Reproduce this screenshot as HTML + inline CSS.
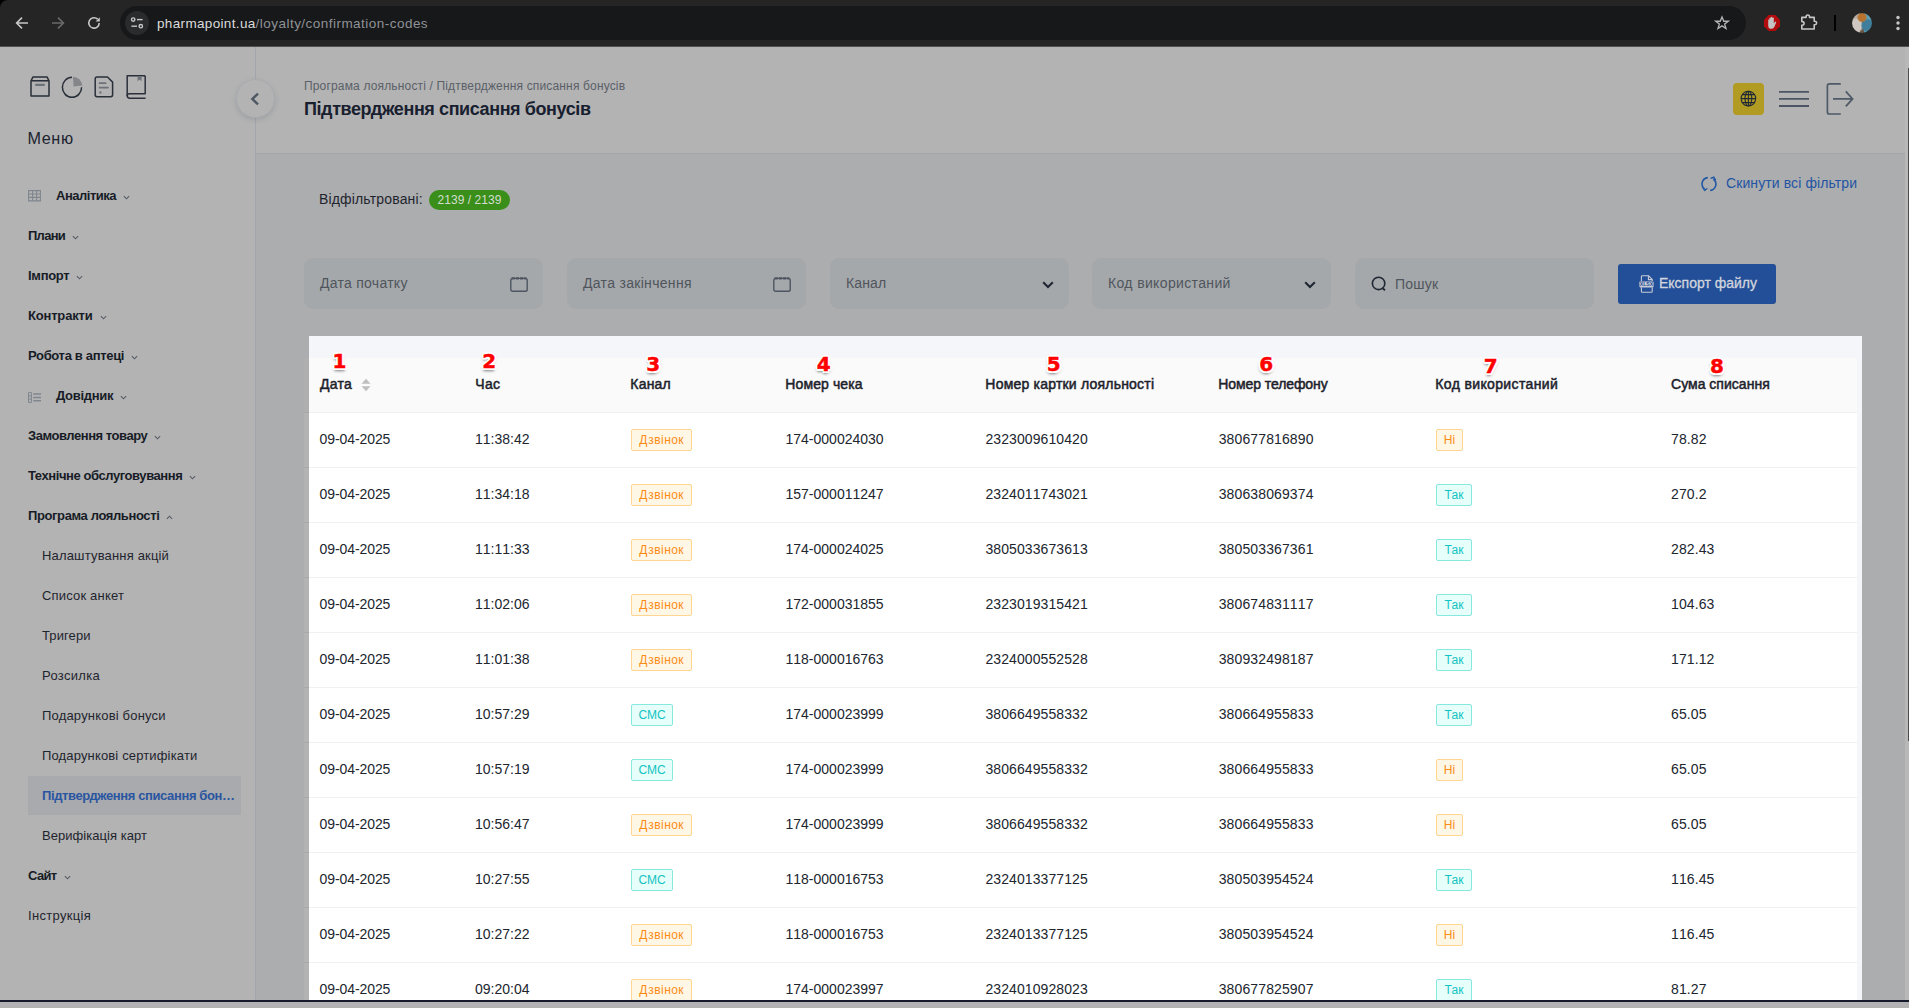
<!DOCTYPE html>
<html lang="uk">
<head>
<meta charset="utf-8">
<title>Підтвердження списання бонусів</title>
<style>
*{box-sizing:border-box;margin:0;padding:0}
html,body{width:1909px;height:1008px;overflow:hidden;background:#b3b3b3}
body{font-family:"Liberation Sans",sans-serif;color:#1f2937;position:relative;font-size:13px}
.abs{position:absolute}
#chrome{position:absolute;left:0;top:0;width:1909px;height:47px;background:#252525;border-bottom:1px solid #505050;z-index:5}
#urlbar{position:absolute;left:120px;top:6px;width:1626px;height:34px;border-radius:17px;background:#17181a}
#siteinfo{position:absolute;left:125px;top:11px;width:24px;height:24px;border-radius:12px;background:#2a2b2d}
#url{position:absolute;left:157px;top:0;height:46px;line-height:47px;font-size:13.5px;color:#8f9296;white-space:nowrap}
#url b{font-weight:normal;color:#dcdcdc}
#avatar{left:1852px;top:13px;width:20px;height:20px;border-radius:10px;background:
 radial-gradient(circle at 50% 22%,#b8742f 0 20%,transparent 28%),
 radial-gradient(circle at 78% 62%,#3f7f9c 0 26%,transparent 36%),
 radial-gradient(circle at 22% 62%,#cfc8c2 0 28%,transparent 38%),
 linear-gradient(90deg,#b5aea8 0 42%,#6a5646 42% 58%,#5f9fb4 58%)}
#sidebar{position:absolute;left:0;top:46px;width:256px;height:955px;background:#b3b3b3;border-right:1px solid #a2a6ab}
.menu-title{position:absolute;left:27.4px;top:128px;font-size:16.2px;line-height:20px;color:#1c2430}
.mi{position:absolute;left:28px;height:20px;line-height:20px;font-size:13px;font-weight:bold;color:#171c26;white-space:nowrap}
.mi.sub{left:42px;font-weight:normal;color:#1f252e}
.mi.act{font-weight:bold;color:#2a55a0}
.mi .car{display:inline-block;width:7px;height:7px;margin-left:7px;vertical-align:-1px}
#active{position:absolute;left:28px;top:776px;width:213px;height:39px;background:#a8aaae}
#header{position:absolute;left:256px;top:46px;width:1649px;height:108px;background:#b3b3b3;border-bottom:1px solid #a2a6ab}
#collapse{position:absolute;left:236px;top:79px;width:39px;height:39px;border-radius:20px;background:#b3b3b3;border:1px solid #a9acb0;box-shadow:0 2px 5px rgba(60,70,90,.18)}
#collapse svg{position:absolute;left:12px;top:12px}
#crumb{position:absolute;left:304px;top:78px;font-size:12px;line-height:16px;color:#5b6068;white-space:nowrap}
#ptitle{position:absolute;left:304px;top:97px;font-size:18px;line-height:24px;font-weight:bold;color:#18202f;white-space:nowrap}
#lang{left:1733px;top:83px;width:31px;height:32px;border-radius:4px;background:#b29b22}
#content{position:absolute;left:256px;top:154px;width:1649px;height:847px;background:#acadaf}
#flabel{position:absolute;left:319px;top:189px;font-size:14px;line-height:20px;color:#1f252e;white-space:nowrap}
#fbadge{position:absolute;left:429px;top:190px;width:81px;height:20px;border-radius:10px;background:#3a8f1a;color:#d3ddcf;font-size:12px;line-height:20px;text-align:center;white-space:nowrap}
.inp{position:absolute;top:258px;width:239px;height:51px;border-radius:9px;background:#a4a8ab}
.inp > span{position:absolute;left:16px;top:0;line-height:50px;font-size:14px;color:#50555c;white-space:nowrap}
.inp .cal{position:absolute;left:206px;top:19px}
.inp .chev{position:absolute;left:212px;top:23px}
.inp .srch{position:absolute;left:16px;top:18px}
#export{position:absolute;left:1618px;top:264px;width:158px;height:40px;border-radius:3px;background:#224f98;color:#d2d5dd}
#export .xls{position:absolute;left:21px;top:11px}
#export > span{position:absolute;left:41px;top:0;font-size:14px;line-height:39px;white-space:nowrap;-webkit-text-stroke:0.3px #d2d5dd}
#reset{position:absolute;left:1726px;top:173px;font-size:14px;line-height:20px;color:#2354a3;white-space:nowrap}
#strip{position:absolute;left:304px;top:358px;width:5px;height:643px;background:#b3b3b3}
#strip i{position:absolute;left:0;width:5px}
#hl{position:absolute;left:309px;top:336px;width:1553px;height:665px;background:#f5f6fa;overflow:hidden}
#table{position:absolute;left:-5px;top:22px;width:1553px;height:700px;background:#fff}
#thead{position:absolute;left:0;top:0;width:1553px;height:55px;background:#fafafa;border-bottom:1px solid #f0f0f0}
.h{position:absolute;top:17px;line-height:18px;font-size:14px;font-weight:normal;-webkit-text-stroke:0.5px #1c212b;color:#1c212b;white-space:nowrap}
.h .sort{position:absolute;left:40.7px;top:3.4px}
.row{position:absolute;left:0;width:1553px;height:55px;border-bottom:1px solid #f0f0f0;background:#fff}
.c{position:absolute;top:0;line-height:52px;font-size:14px;color:#20252e;white-space:nowrap;font-kerning:none}
.c{margin-left:-0.5px}.h1,.h2,.h3,.h4,.h5,.h6{margin-left:-0.7px}
.c0{letter-spacing:-0.08px}.c1{letter-spacing:0;margin-left:-1px}.c4{letter-spacing:.08px}.c5{letter-spacing:.12px;margin-left:-.3px}.c7{margin-left:0;letter-spacing:.1px}
.tag{position:absolute;top:16px;height:22px;line-height:20px;font-size:12px;padding:0;text-align:center;border:1px solid;border-radius:2px;white-space:nowrap}
.tag.dz{width:61px;letter-spacing:0.45px;text-indent:0.4px}.tag.sms{width:42px}.tag.tak{width:36px;letter-spacing:.05px}.tag.ni{width:27px}
.tag.o{color:#fa8c16;background:#fff7e6;border-color:#ffd591}
.tag.c2{color:#13c2c2;background:#e6fffb;border-color:#87e8de}
.num{position:absolute;width:30px;height:30px;text-align:center;font-family:"DejaVu Sans",sans-serif;font-weight:bold;font-size:20px;line-height:30px;color:#ff0000;-webkit-text-stroke:0.45px #ff0000;
 text-shadow:-1.5px -1.5px 0 #fff,1.5px -1.5px 0 #fff,-1.5px 1.5px 0 #fff,1.5px 1.5px 0 #fff,0 -2px 0 #fff,0 2px 0 #fff,-2px 0 0 #fff,2px 0 0 #fff,-.5px 3px 2.5px rgba(0,0,0,.4),0 2px 4px rgba(0,0,0,.22)}
#bottombar{position:absolute;left:0;top:1000px;width:1909px;height:8px;background:#b3b3b3;border-top:2px solid #161a2a;z-index:6}
#vscroll{position:absolute;left:1905px;top:46px;width:4px;height:955px;background:#b8b8b8}
#vscroll i{position:absolute;left:3px;top:22px;width:1px;height:673px;background:#4c4c4c}

</style>
</head>
<body>
<div id="chrome">
  <div id="urlbar"></div>
  <div id="siteinfo"></div>
  <div id="url"><b style="letter-spacing:0.34px;">pharmapoint.ua</b><span style="letter-spacing:0.47px;">/loyalty/confirmation-codes</span></div>

<svg class="abs" style="left:0;top:0" width="8" height="8" viewBox="0 0 8 8"><path d="M0 0H8A8 8 0 0 0 0 8Z" fill="#000"/></svg>
<svg class="abs" style="left:14px;top:15px" width="16" height="16" viewBox="0 0 16 16"><path d="M14 8H3M8 2.6L2.6 8L8 13.4" fill="none" stroke="#c7c7c7" stroke-width="1.6"/></svg>
<svg class="abs" style="left:50px;top:15px" width="16" height="16" viewBox="0 0 16 16"><path d="M2 8H13M8 2.6L13.4 8L8 13.4" fill="none" stroke="#6a6a6a" stroke-width="1.6"/></svg>
<svg class="abs" style="left:86px;top:15px" width="16" height="16" viewBox="0 0 16 16"><path d="M13.2 8A5.2 5.2 0 1 1 11.6 4.2" fill="none" stroke="#c7c7c7" stroke-width="1.6"/><path d="M13.8 2.2V6.4H9.6Z" fill="#c7c7c7"/></svg>
<svg class="abs" style="left:129px;top:15px" width="16" height="16" viewBox="0 0 16 16" fill="none" stroke="#c7c7c7" stroke-width="1.4"><circle cx="4.2" cy="4.6" r="1.7"/><path d="M8 4.6H13.6"/><circle cx="11.8" cy="11.2" r="1.7"/><path d="M2.4 11.2H8"/></svg>
<svg class="abs" style="left:1714px;top:14.5px" width="16" height="16" viewBox="0 0 18 18"><path d="M9 2.2L11 7H16L12 10.2L13.5 15.2L9 12.2L4.5 15.2L6 10.2L2 7H7Z" fill="none" stroke="#b4b4b4" stroke-width="1.5" stroke-linejoin="miter"/></svg>
<svg class="abs" style="left:1764px;top:15px" width="16" height="16" viewBox="0 0 16 16"><path d="M4.7 0H11.3L16 4.7V11.3L11.3 16H4.7L0 11.3V4.7Z" fill="#b30c0c"/><path transform="translate(8 8) scale(1.22) translate(-8.3 -7.8)" d="M5.2 8.2V5.2Q5.7 4.6 6.2 5.2V3.6Q6.8 3 7.4 3.6V3Q8 2.4 8.6 3V3.6Q9.2 3.1 9.8 3.7V8L10.8 6.8Q11.6 6.4 11.8 7.2L10.4 10.6Q9.6 12.6 8 12.6Q5.4 12.6 5.2 10Z" fill="#c4c4c4"/></svg>
<svg class="abs" style="left:1799px;top:13px" width="20" height="20" viewBox="0 0 20 20"><path d="M2.8 4.4H7.1V3.7A1.7 1.7 0 0 1 10.5 3.7V4.4H15.2V8.3H15.9A1.7 1.7 0 0 1 15.9 11.7H15.2V16H2.8V12.2H3.3A1.8 1.8 0 0 0 3.3 8.6H2.8Z" fill="none" stroke="#c7c7c7" stroke-width="1.6" stroke-linejoin="round"/></svg>
<div class="abs" style="left:1834px;top:15px;width:2px;height:16px;background:#000"></div>
<div class="abs" id="avatar"></div>
<svg class="abs" style="left:1894px;top:14px" width="8" height="18" viewBox="0 0 8 18" fill="#c7c7c7"><circle cx="4" cy="3.5" r="1.7"/><circle cx="4" cy="9" r="1.7"/><circle cx="4" cy="14.5" r="1.7"/></svg>

</div>
<div id="sidebar"></div><div id="header"></div><div id="content"></div><div id="vscroll"><i></i></div>
<svg class="abs" style="left:28px;top:74px" width="24" height="25" viewBox="0 0 24 24" preserveAspectRatio="none" fill="none" stroke="#2a303a" stroke-width="1.5" stroke-linejoin="round"><path d="M3 6.5L5 2.8H19L21 6.5V21.2H3Z"/><path d="M3 6.5H21"/><path d="M8 10.4H16" stroke="#6d7178" stroke-width="2.2" stroke-linecap="round"/></svg>
<svg class="abs" style="left:60px;top:74px" width="24" height="25" viewBox="0 0 24 24" preserveAspectRatio="none"><path d="M13 2.6A9.6 9.6 0 0 1 22.4 11L13.6 12Z" fill="#84868a"/><path d="M12 3.2A9.6 9.6 0 1 0 21.6 12.8" fill="none" stroke="#2a303a" stroke-width="1.5"/></svg>
<svg class="abs" style="left:92px;top:74px" width="24" height="25.5" viewBox="0 0 24 24" preserveAspectRatio="none" fill="none" stroke="#2a303a" stroke-width="1.5" stroke-linejoin="round"><path d="M5 2.8H15.5L20.6 7.6V19.6Q20.6 21.4 18.8 21.4H5Q3.2 21.4 3.2 19.6V4.6Q3.2 2.8 5 2.8Z"/><path d="M7.6 8.6H13.6M7.6 12.8H16" stroke="#6d7178" stroke-width="1.8" stroke-linecap="round"/><circle cx="8.4" cy="17.4" r="1.1" fill="#6d7178" stroke="none"/></svg>
<svg class="abs" style="left:124px;top:71.7px" width="24" height="28.6" viewBox="0 0 24 28" preserveAspectRatio="none" fill="none" stroke="#2a303a" stroke-width="1.5" stroke-linejoin="round"><path d="M21.2 3.6H3.2V23Q3.2 25.6 5.8 25.6H21.6"/><path d="M21.2 3.6V21.4H5.2Q3.2 21.4 3.2 23.4"/><path d="M13.6 3.8H17.6V9L15.6 7.4L13.6 9Z" fill="#6d7178" stroke="none"/></svg>
<svg class="abs" style="left:28px;top:190px" width="13" height="12" viewBox="0 0 13 12" fill="none" stroke="#80868f" stroke-width="1.1"><path d="M.6 .6H12.4V10.9H.6ZM.6 4H12.4M.6 7.4H12.4M4.6 .6V10.9M8.6 .6V10.9"/></svg>
<svg class="abs" style="left:28px;top:391.5px" width="13" height="11" viewBox="0 0 13 11" fill="none" stroke="#80868f" stroke-width="1"><path d="M.5 .6H3.4V10.4H.5ZM.5 3.9H3.4M.5 7.1H3.4"/><path d="M5.2 2H13M5.2 5.4H13M5.2 8.8H13" stroke-width="1.5"/></svg>

<div class="menu-title"><span style="letter-spacing:0.63px;">Меню</span></div>
<div class="mi" style="left:56px;top:186px"><span style="letter-spacing:-0.48px;">Аналітика</span><svg class="car" viewBox="0 0 8 8"><path d="M1 2.5 L4 5.5 L7 2.5" fill="none" stroke="#555b65" stroke-width="1.25"/></svg></div>
<div class="mi" style="left:28px;top:226px"><span style="letter-spacing:-0.72px;">Плани</span><svg class="car" viewBox="0 0 8 8"><path d="M1 2.5 L4 5.5 L7 2.5" fill="none" stroke="#555b65" stroke-width="1.25"/></svg></div>
<div class="mi" style="left:28px;top:266px"><span style="letter-spacing:-0.3px;">Імпорт</span><svg class="car" viewBox="0 0 8 8"><path d="M1 2.5 L4 5.5 L7 2.5" fill="none" stroke="#555b65" stroke-width="1.25"/></svg></div>
<div class="mi" style="left:28px;top:306px"><span style="letter-spacing:-0.18px;">Контракти</span><svg class="car" viewBox="0 0 8 8"><path d="M1 2.5 L4 5.5 L7 2.5" fill="none" stroke="#555b65" stroke-width="1.25"/></svg></div>
<div class="mi" style="left:28px;top:346px"><span style="letter-spacing:-0.33px;">Робота в аптеці</span><svg class="car" viewBox="0 0 8 8"><path d="M1 2.5 L4 5.5 L7 2.5" fill="none" stroke="#555b65" stroke-width="1.25"/></svg></div>
<div class="mi" style="left:56px;top:386px"><span style="letter-spacing:-0.31px;">Довідник</span><svg class="car" viewBox="0 0 8 8"><path d="M1 2.5 L4 5.5 L7 2.5" fill="none" stroke="#555b65" stroke-width="1.25"/></svg></div>
<div class="mi" style="left:28px;top:426px"><span style="letter-spacing:-0.45px;">Замовлення товару</span><svg class="car" viewBox="0 0 8 8"><path d="M1 2.5 L4 5.5 L7 2.5" fill="none" stroke="#555b65" stroke-width="1.25"/></svg></div>
<div class="mi" style="left:28px;top:466px"><span style="letter-spacing:-0.42px;">Технічне обслуговування</span><svg class="car" viewBox="0 0 8 8"><path d="M1 2.5 L4 5.5 L7 2.5" fill="none" stroke="#555b65" stroke-width="1.25"/></svg></div>
<div class="mi" style="left:28px;top:506px"><span style="letter-spacing:-0.38px;">Програма лояльності</span><svg class="car" viewBox="0 0 8 8"><path d="M1 5.5 L4 2.5 L7 5.5" fill="none" stroke="#555b65" stroke-width="1.25"/></svg></div>
<div class="mi sub" style="top:546px"><span style="letter-spacing:0.17px;">Налаштування акцій</span></div>
<div class="mi sub" style="top:586px"><span style="letter-spacing:0.18px;">Список анкет</span></div>
<div class="mi sub" style="top:626px"><span style="letter-spacing:0.1px;">Тригери</span></div>
<div class="mi sub" style="top:666px"><span style="letter-spacing:0.31px;">Розсилка</span></div>
<div class="mi sub" style="top:706px"><span style="letter-spacing:0.19px;">Подарункові бонуси</span></div>
<div class="mi sub" style="top:746px"><span style="letter-spacing:0.15px;">Подарункові сертифікати</span></div>
<div id="active"></div>
<div class="mi sub act" style="top:786px"><span style="letter-spacing:-0.39px;">Підтвердження списання бон…</span></div>
<div class="mi sub" style="top:826px"><span style="letter-spacing:0.05px;">Верифікація карт</span></div>
<div class="mi" style="top:866px"><span style="letter-spacing:-0.66px;">Сайт</span><svg class="car" viewBox="0 0 8 8"><path d="M1 2.5 L4 5.5 L7 2.5" fill="none" stroke="#555b65" stroke-width="1.25"/></svg></div>
<div class="mi sub" style="left:28px;top:906px"><span style="letter-spacing:0.32px;">Інструкція</span></div>
<div id="collapse"><svg viewBox="0 0 12 14" width="12" height="14"><path d="M9 1.6 L3.4 7 L9 12.4" fill="none" stroke="#4d5663" stroke-width="2.4"/></svg></div>
<div id="crumb"><span style="letter-spacing:0.16px;">Програма лояльності / Підтвердження списання бонусів</span></div>
<div id="ptitle"><span style="letter-spacing:-0.41px;">Підтвердження списання бонусів</span></div>
<div class="abs" id="lang"><svg width="31" height="32" viewBox="0 0 31 32" fill="none" stroke="#1e2836" stroke-width="1.05"><circle cx="15.4" cy="15.6" r="7.3"/><path d="M8.1 15.6H22.7M15.4 8.3V22.9M9.3 11.6H21.5M9.3 19.6H21.5"/><ellipse cx="15.4" cy="15.6" rx="3.4" ry="7.3"/></svg></div>
<svg class="abs" style="left:1779px;top:90px" width="30" height="18" viewBox="0 0 30 18"><path d="M0 1.9H30M0 8.9H30M0 16H30" stroke="#4b5563" stroke-width="1.9" fill="none"/></svg>
<svg class="abs" style="left:1824px;top:81px" width="32" height="36" viewBox="0 0 32 36" fill="none" stroke="#4f5a68" stroke-width="1.7"><path d="M16.8 2.8H5.4Q3.4 2.8 3.4 4.8V31Q3.4 33 5.4 33H16.8"/><path d="M9 17.9H28M21.8 10.4L28.6 17.9L21.8 25.4"/></svg>

<div id="flabel"><span style="letter-spacing:0.16px;">Відфільтровані:</span></div><div id="fbadge"><span style="letter-spacing:0.07px;">2139 / 2139</span></div>
<div class="inp" style="left:304px"><span><span style="letter-spacing:0.27px;">Дата початку</span></span><svg class="cal" viewBox="0 0 18 15" width="18" height="15"><rect x=".8" y="1.4" width="16.4" height="12.8" rx="1.8" fill="none" stroke="#4d5561" stroke-width="1.4"/><path d="M1.6 1.4H16.4" stroke="#4d5561" stroke-width="2.4" stroke-dasharray="3.2 1"/></svg></div>
<div class="inp" style="left:567px"><span><span style="letter-spacing:0.31px;">Дата закінчення</span></span><svg class="cal" viewBox="0 0 18 15" width="18" height="15"><rect x=".8" y="1.4" width="16.4" height="12.8" rx="1.8" fill="none" stroke="#4d5561" stroke-width="1.4"/><path d="M1.6 1.4H16.4" stroke="#4d5561" stroke-width="2.4" stroke-dasharray="3.2 1"/></svg></div>
<div class="inp" style="left:830px"><span><span style="letter-spacing:0.14px;">Канал</span></span><svg class="chev" viewBox="0 0 12 8" width="12" height="8"><path d="M1.2 1.2L6 6L10.8 1.2" fill="none" stroke="#1e2532" stroke-width="2"/></svg></div>
<div class="inp" style="left:1092px"><span><span style="letter-spacing:0.36px;">Код використаний</span></span><svg class="chev" viewBox="0 0 12 8" width="12" height="8"><path d="M1.2 1.2L6 6L10.8 1.2" fill="none" stroke="#1e2532" stroke-width="2"/></svg></div>
<div class="inp" style="left:1355px"><svg class="srch" viewBox="0 0 16 16" width="16" height="16"><circle cx="7.6" cy="7.4" r="6.2" fill="none" stroke="#1f2733" stroke-width="1.6"/><path d="M11.6 12.2L14 14.2" stroke="#1f2733" stroke-width="1.8"/></svg><span style="left:40px;top:1px"><span style="letter-spacing:0.2px;">Пошук</span></span></div>
<div id="export"><svg class="xls" viewBox="0 0 15 18" width="15" height="18"><path d="M2.4 6V1.6Q2.4 .8 3.2 .8H9.6L13.2 4.4V6M13.2 12.6V16.4Q13.2 17.2 12.4 17.2H3.2Q2.4 17.2 2.4 16.4V12.6" fill="none" stroke="#c9ccd6" stroke-width="1.1"/><path d="M9.4 .8V4.6H13.2" fill="none" stroke="#c9ccd6" stroke-width="1.1"/><rect x=".4" y="6.4" width="14.2" height="6" rx=".8" fill="#c9ccd6"/><text x="7.5" y="11.3" font-family="Liberation Sans,sans-serif" font-size="5.2" font-weight="bold" fill="#224f98" text-anchor="middle">XLSX</text></svg><span><span style="letter-spacing:-0.01px;">Експорт файлу</span></span></div>
<svg class="abs" style="left:1701px;top:176px" width="16" height="16" viewBox="0 0 16 16" fill="none" stroke="#2257a5" stroke-width="1.6"><path d="M6.8 1.6A6.3 6.3 0 0 0 3.6 12.9"/><path d="M9.2 14.4A6.3 6.3 0 0 0 12.4 3.1"/><path d="M1.2 10.8L3.4 13.6L6.4 12.6L3.6 15Z" fill="#2257a5" stroke-width=".8"/><path d="M9.6 2.4L12.8 1.2L14.6 4.4" stroke-width="1.5"/></svg>
<div id="reset"><span style="letter-spacing:0.1px;">Скинути всі фільтри</span></div>

<div id="strip"><i style="top:0;height:54px;background:#afafaf"></i><i style="top:54px;height:1px;background:#a8a8a8"></i><i style="top:109px;height:1px;background:#a8a8a8"></i><i style="top:164px;height:1px;background:#a8a8a8"></i><i style="top:219px;height:1px;background:#a8a8a8"></i><i style="top:274px;height:1px;background:#a8a8a8"></i><i style="top:329px;height:1px;background:#a8a8a8"></i><i style="top:384px;height:1px;background:#a8a8a8"></i><i style="top:439px;height:1px;background:#a8a8a8"></i><i style="top:494px;height:1px;background:#a8a8a8"></i><i style="top:549px;height:1px;background:#a8a8a8"></i><i style="top:604px;height:1px;background:#a8a8a8"></i><i style="top:659px;height:1px;background:#a8a8a8"></i></div>
<div id="hl"><div id="table"><div id="thead">
<div class="h h0" style="left:16px;letter-spacing:0.25px;">Дата<svg class="sort" viewBox="0 0 10 14" width="10" height="14"><path d="M5 .7 L9.5 5.7 H.5 Z M5 13.3 L9.5 8.3 H.5 Z" fill="#bfbfbf"/></svg></div>
<div class="h h1" style="left:172px;letter-spacing:0.34px;">Час</div>
<div class="h h2" style="left:327px;letter-spacing:0.19px;">Канал</div>
<div class="h h3" style="left:482px;letter-spacing:0.11px;">Номер чека</div>
<div class="h h4" style="left:682px;letter-spacing:0.21px;">Номер картки лояльності</div>
<div class="h h5" style="left:915px;letter-spacing:-0.09px;">Номер телефону</div>
<div class="h h6" style="left:1132px;letter-spacing:0.36px;">Код використаний</div>
<div class="h h7" style="left:1367px;letter-spacing:0.02px;">Сума списання</div>
</div>
<div class="row" style="top:55px">
<span class="c c0" style="left:16px">09-04-2025</span>
<span class="c c1" style="left:172px">11:38:42</span>
<span class="tag o dz" style="left:327px">Дзвінок</span>
<span class="c c3" style="left:482px">174-000024030</span>
<span class="c c4" style="left:682px">2323009610420</span>
<span class="c c5" style="left:915px">380677816890</span>
<span class="tag o ni" style="left:1132px">Ні</span>
<span class="c c7" style="left:1367px">78.82</span>
</div>
<div class="row" style="top:110px">
<span class="c c0" style="left:16px">09-04-2025</span>
<span class="c c1" style="left:172px">11:34:18</span>
<span class="tag o dz" style="left:327px">Дзвінок</span>
<span class="c c3" style="left:482px">157-000011247</span>
<span class="c c4" style="left:682px">2324011743021</span>
<span class="c c5" style="left:915px">380638069374</span>
<span class="tag c2 tak" style="left:1132px">Так</span>
<span class="c c7" style="left:1367px">270.2</span>
</div>
<div class="row" style="top:165px">
<span class="c c0" style="left:16px">09-04-2025</span>
<span class="c c1" style="left:172px">11:11:33</span>
<span class="tag o dz" style="left:327px">Дзвінок</span>
<span class="c c3" style="left:482px">174-000024025</span>
<span class="c c4" style="left:682px">3805033673613</span>
<span class="c c5" style="left:915px">380503367361</span>
<span class="tag c2 tak" style="left:1132px">Так</span>
<span class="c c7" style="left:1367px">282.43</span>
</div>
<div class="row" style="top:220px">
<span class="c c0" style="left:16px">09-04-2025</span>
<span class="c c1" style="left:172px">11:02:06</span>
<span class="tag o dz" style="left:327px">Дзвінок</span>
<span class="c c3" style="left:482px">172-000031855</span>
<span class="c c4" style="left:682px">2323019315421</span>
<span class="c c5" style="left:915px">380674831117</span>
<span class="tag c2 tak" style="left:1132px">Так</span>
<span class="c c7" style="left:1367px">104.63</span>
</div>
<div class="row" style="top:275px">
<span class="c c0" style="left:16px">09-04-2025</span>
<span class="c c1" style="left:172px">11:01:38</span>
<span class="tag o dz" style="left:327px">Дзвінок</span>
<span class="c c3" style="left:482px">118-000016763</span>
<span class="c c4" style="left:682px">2324000552528</span>
<span class="c c5" style="left:915px">380932498187</span>
<span class="tag c2 tak" style="left:1132px">Так</span>
<span class="c c7" style="left:1367px">171.12</span>
</div>
<div class="row" style="top:330px">
<span class="c c0" style="left:16px">09-04-2025</span>
<span class="c c1" style="left:172px">10:57:29</span>
<span class="tag c2 sms" style="left:327px">СМС</span>
<span class="c c3" style="left:482px">174-000023999</span>
<span class="c c4" style="left:682px">3806649558332</span>
<span class="c c5" style="left:915px">380664955833</span>
<span class="tag c2 tak" style="left:1132px">Так</span>
<span class="c c7" style="left:1367px">65.05</span>
</div>
<div class="row" style="top:385px">
<span class="c c0" style="left:16px">09-04-2025</span>
<span class="c c1" style="left:172px">10:57:19</span>
<span class="tag c2 sms" style="left:327px">СМС</span>
<span class="c c3" style="left:482px">174-000023999</span>
<span class="c c4" style="left:682px">3806649558332</span>
<span class="c c5" style="left:915px">380664955833</span>
<span class="tag o ni" style="left:1132px">Ні</span>
<span class="c c7" style="left:1367px">65.05</span>
</div>
<div class="row" style="top:440px">
<span class="c c0" style="left:16px">09-04-2025</span>
<span class="c c1" style="left:172px">10:56:47</span>
<span class="tag o dz" style="left:327px">Дзвінок</span>
<span class="c c3" style="left:482px">174-000023999</span>
<span class="c c4" style="left:682px">3806649558332</span>
<span class="c c5" style="left:915px">380664955833</span>
<span class="tag o ni" style="left:1132px">Ні</span>
<span class="c c7" style="left:1367px">65.05</span>
</div>
<div class="row" style="top:495px">
<span class="c c0" style="left:16px">09-04-2025</span>
<span class="c c1" style="left:172px">10:27:55</span>
<span class="tag c2 sms" style="left:327px">СМС</span>
<span class="c c3" style="left:482px">118-000016753</span>
<span class="c c4" style="left:682px">2324013377125</span>
<span class="c c5" style="left:915px">380503954524</span>
<span class="tag c2 tak" style="left:1132px">Так</span>
<span class="c c7" style="left:1367px">116.45</span>
</div>
<div class="row" style="top:550px">
<span class="c c0" style="left:16px">09-04-2025</span>
<span class="c c1" style="left:172px">10:27:22</span>
<span class="tag o dz" style="left:327px">Дзвінок</span>
<span class="c c3" style="left:482px">118-000016753</span>
<span class="c c4" style="left:682px">2324013377125</span>
<span class="c c5" style="left:915px">380503954524</span>
<span class="tag o ni" style="left:1132px">Ні</span>
<span class="c c7" style="left:1367px">116.45</span>
</div>
<div class="row" style="top:605px">
<span class="c c0" style="left:16px">09-04-2025</span>
<span class="c c1" style="left:172px">09:20:04</span>
<span class="tag o dz" style="left:327px">Дзвінок</span>
<span class="c c3" style="left:482px">174-000023997</span>
<span class="c c4" style="left:682px">2324010928023</span>
<span class="c c5" style="left:915px">380677825907</span>
<span class="tag c2 tak" style="left:1132px">Так</span>
<span class="c c7" style="left:1367px">81.27</span>
</div>
</div>
<div class="num" style="left:15.5px;top:10.4px">1</div>
<div class="num" style="left:165.2px;top:10.4px">2</div>
<div class="num" style="left:329.1px;top:13.1px">3</div>
<div class="num" style="left:499.7px;top:13.1px">4</div>
<div class="num" style="left:729.8px;top:12.6px">5</div>
<div class="num" style="left:942.3px;top:12.6px">6</div>
<div class="num" style="left:1166.8px;top:15.1px">7</div>
<div class="num" style="left:1393.0px;top:15.1px">8</div>
</div>
<div id="bottombar"></div>
</body>
</html>
